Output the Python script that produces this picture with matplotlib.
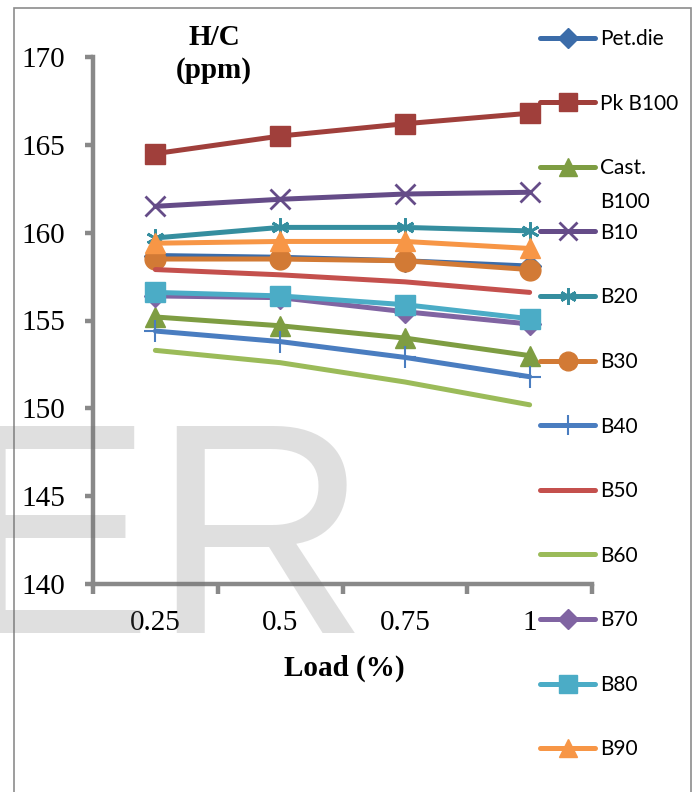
import matplotlib.pyplot as plt
from matplotlib.patches import Rectangle

# H/C emissions vs engine load for diesel / biodiesel blends
loads = ["0.25", "0.5", "0.75", "1"]

pet_die = [158.7, 158.6, 158.4, 158.1]
pk_b100 = [164.5, 165.5, 166.2, 166.8]
cast_b100 = [155.2, 154.7, 154.0, 153.0]
b10 = [161.5, 161.9, 162.2, 162.3]
b20 = [159.7, 160.3, 160.3, 160.1]
b30 = [158.5, 158.5, 158.4, 157.9]
b40 = [154.4, 153.8, 152.9, 151.8]
b50 = [157.9, 157.6, 157.2, 156.6]
b60 = [153.3, 152.6, 151.5, 150.2]
b70 = [156.4, 156.3, 155.5, 154.8]
b80 = [156.6, 156.4, 155.9, 155.1]
b90 = [159.4, 159.5, 159.5, 159.1]

names = ["Pet.die", "Pk B100", "Cast.", "B10", "B20", "B30",
         "B40", "B50", "B60", "B70", "B80", "B90"]
series = [pet_die, pk_b100, cast_b100, b10, b20, b30,
          b40, b50, b60, b70, b80, b90]

colors = ["#3B6CA9", "#A03F3B", "#7E9D42", "#654C88", "#358E9F", "#D27A35",
          "#4A7DC0", "#C4504D", "#9BBB59", "#8064A2", "#4BACC6", "#F79646"]
markers = ["D", "s", "^", "x", (6, 2, 0), "o", "+", "", "", "D", "s", "^"]
msizes = [11, 15, 15, 14, 13, 15, 16, 0, 0, 11, 15, 15]
mews = [1, 1, 1, 2, 2, 1, 1.5, 1, 1, 1, 1, 1]

fig = plt.figure(figsize=(7, 7.92), dpi=100)
W, H = 700, 792
ax = fig.add_axes([93 / W, 1 - 584 / H, (592 - 93) / W, (584 - 57) / H])

x = range(len(loads))
handles = []
for vals, name, c, m, ms, mw in zip(series, names, colors, markers, msizes, mews):
    h, = ax.plot(x, vals, color=c, lw=3.6, marker=m, markersize=ms,
                 markeredgewidth=mw, markeredgecolor=c, markerfacecolor=c,
                 solid_capstyle="round", label=name, clip_on=False)
    handles.append(h)

ax.set_xlim(-0.5, 3.5)
ax.set_ylim(140, 170)
ax.set_yticks(range(140, 171, 5))
ax.set_xticks(list(x))
ax.set_xticklabels(loads)
ax.set_xticks([-0.5, 0.5, 1.5, 2.5, 3.5], minor=True)

axis_gray = "#898989"
for side in ["top", "right"]:
    ax.spines[side].set_visible(False)
for side in ["left", "bottom"]:
    ax.spines[side].set_color(axis_gray)
    ax.spines[side].set_linewidth(3.2)

serif = "Liberation Serif"
ax.tick_params(axis="y", direction="out", length=6, width=3.2, color=axis_gray,
               pad=14, labelsize=21)
ax.tick_params(axis="x", which="major", length=0, pad=19, labelsize=21)
ax.tick_params(axis="x", which="minor", direction="out", length=7, width=3.2,
               color=axis_gray)
for lab in ax.get_xticklabels() + ax.get_yticklabels():
    lab.set_fontfamily(serif)
ax.set_facecolor("none")

fig.text(344 / W, 1 - 668 / H, "Load (%)", family=serif, weight="bold",
         fontsize=21, ha="center", va="center")
fig.text(214 / W, 1 - 54 / H, "H/C\n(ppm)", family=serif, weight="bold",
         fontsize=21, ha="center", va="center", linespacing=1.25)

leg = fig.legend(handles=handles, loc="upper left",
                 bbox_to_anchor=(540 / W, 1 - 29 / H), frameon=False,
                 prop={"family": "Lato", "size": 15}, labelspacing=2.14,
                 handlelength=2.64, handletextpad=0.25, borderpad=0,
                 borderaxespad=0, markerscale=0.9)

# second line of the "Cast. B100" entry, placed under its first line
fig.draw_without_rendering()
cast_box = leg.get_texts()[2].get_window_extent()
fig.text(cast_box.x0 / W, (cast_box.y0 - 34) / H, "B100", family="Lato",
         fontsize=15, ha="left", va="bottom")

# outer frame
fig.patches.append(Rectangle((14 / W, -0.01), (691 - 14) / W, 1 - 8 / H + 0.01,
                             transform=fig.transFigure, fill=False,
                             edgecolor="#8c8c8c", lw=1.2))

# faint watermark letters
fig.text(-48 / W, 1 - 633 / H, "ER", family="Liberation Sans", fontsize=216,
         color="#707070", alpha=0.22, ha="left", va="baseline", zorder=10)

fig.savefig("out.png", dpi=100)
